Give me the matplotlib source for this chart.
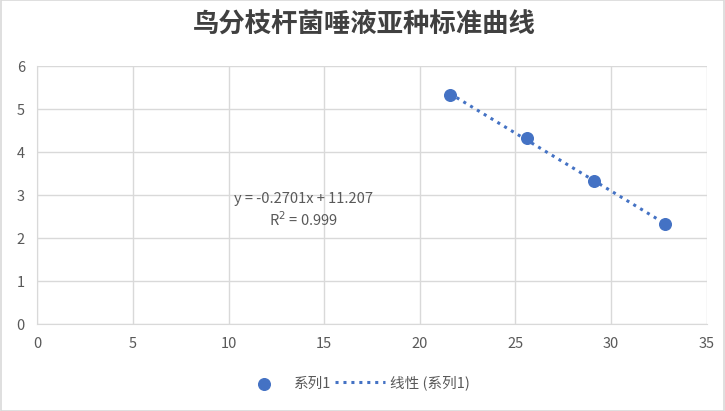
import numpy as np
import matplotlib.pyplot as plt
from matplotlib.patches import Rectangle

plt.rcParams['font.family'] = ['Noto Sans CJK SC', 'DejaVu Sans']

# values
ct_values = [21.57, 25.63, 29.13, 32.80]
log_conc = [5.33, 4.33, 3.33, 2.33]
x_ticks = [0, 5, 10, 15, 20, 25, 30, 35]
y_ticks = [0, 1, 2, 3, 4, 5, 6]

title = '鸟分枝杆菌唾液亚种标准曲线'
eq_text = 'y = -0.2701x + 11.207\nR$^2$ = 0.999'

blue = '#4472c4'
grey = '#595959'
grid_c = '#d9d9d9'

fig = plt.figure(figsize=(7.25, 4.11), dpi=100)
ax = fig.add_axes([0.0516, 0.211, 0.923, 0.628])

# chart area border
fig.patches.append(Rectangle((0.0015, 0.0), 0.997, 0.999, transform=fig.transFigure,
                             fill=False, edgecolor='#d9d9d9', lw=1.2))

ax.set_xlim(0, 35)
ax.set_ylim(0, 6)
ax.set_xticks(x_ticks)
ax.set_yticks(y_ticks)
ax.grid(True, color=grid_c, lw=1)
ax.set_axisbelow(True)
for s in ax.spines.values():
    s.set_visible(False)
ax.spines['bottom'].set_visible(True)
ax.spines['bottom'].set_color(grid_c)
ax.spines['left'].set_visible(True)
ax.spines['left'].set_color(grid_c)
ax.tick_params(length=0, labelsize=10.5, labelcolor=grey, pad=9)

ax.scatter(ct_values, log_conc, s=70, color=blue, zorder=3, label='系列1')

# linear trendline
k, b = np.polyfit(ct_values, log_conc, 1)
xs = np.array([min(ct_values), max(ct_values)])
ax.plot(xs, k * xs + b, ls=(0, (1, 1.6)), lw=2.2, color=blue, label='线性 (系列1)')

ax.text(13.9, 2.64, eq_text, ha='center', va='center', fontsize=10.5, color=grey,
        linespacing=1.25)

fig.text(0.503, 0.938, title, ha='center', va='center', fontsize=19,
         fontweight='bold', color='#404040')

fig.legend(loc='center', bbox_to_anchor=(0.489, 0.068), ncol=2, frameon=False,
           fontsize=10.5, labelcolor=grey, handlelength=3.4, columnspacing=0.3,
           handletextpad=0.35)

fig.savefig('out.png', dpi=100)
